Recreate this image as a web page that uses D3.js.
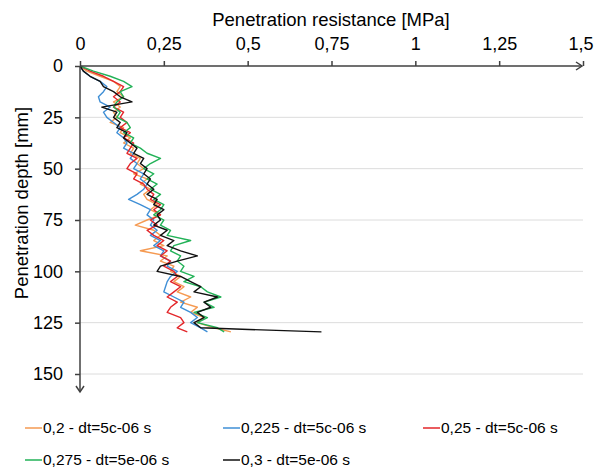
<!DOCTYPE html>
<html>
<head>
<meta charset="utf-8">
<script src="https://cdn.jsdelivr.net/npm/d3@7"></script>
<style>
  body { margin: 0; background: #fff; }
</style>
</head>
<body>
<div id="viz"></div>
<script>
// depth [mm] shared by all series
var depths = [0, 2.5, 5, 7.5, 10, 12.5, 15, 17.5, 20, 22.5, 25, 27.5, 30, 32.5, 35, 37.5, 40, 42.5, 45, 47.5,
  50, 52.5, 55, 57.5, 60, 62.5, 65, 67.5, 70, 72.5, 75, 77.5, 80, 82.5, 85, 87.5, 90, 92.5, 95, 97.5,
  100, 102.5, 105, 107.5, 110, 112.5, 115, 117.5, 120, 122.5, 125, 127.5, 129.5];

// resistance [MPa] per series
var s020 = [0, 0.02, 0.06, 0.10, 0.12, 0.11, 0.13, 0.10, 0.12, 0.10, 0.11, 0.09, 0.13, 0.12, 0.15, 0.13, 0.16, 0.15, 0.18, 0.17,
  0.19, 0.16, 0.20, 0.18, 0.21, 0.19, 0.20, 0.23, 0.21, 0.24, 0.20, 0.165, 0.22, 0.24, 0.22, 0.25, 0.18, 0.26, 0.24, 0.28,
  0.27, 0.30, 0.28, 0.31, 0.29, 0.33, 0.30, 0.35, 0.33, 0.37, 0.35, 0.40, 0.45];
var s0225 = [0, 0.01, 0.03, 0.06, 0.08, 0.07, 0.055, 0.06, 0.09, 0.07, 0.08, 0.10, 0.12, 0.11, 0.13, 0.14, 0.13, 0.16, 0.15, 0.17,
  0.16, 0.19, 0.18, 0.20, 0.19, 0.17, 0.145, 0.18, 0.21, 0.20, 0.22, 0.21, 0.23, 0.21, 0.24, 0.22, 0.25, 0.24, 0.27, 0.26,
  0.29, 0.27, 0.26, 0.255, 0.25, 0.28, 0.31, 0.30, 0.33, 0.35, 0.33, 0.36, 0.38];
var s025 = [0, 0.03, 0.07, 0.10, 0.13, 0.12, 0.10, 0.12, 0.10, 0.13, 0.12, 0.14, 0.12, 0.15, 0.13, 0.16, 0.15, 0.14, 0.17, 0.15,
  0.14, 0.17, 0.16, 0.19, 0.20, 0.22, 0.21, 0.24, 0.22, 0.24, 0.21, 0.23, 0.20, 0.22, 0.25, 0.23, 0.26, 0.24, 0.27, 0.25,
  0.28, 0.29, 0.27, 0.30, 0.28, 0.26, 0.29, 0.27, 0.26, 0.30, 0.31, 0.29, 0.32];
var s0275 = [0, 0.04, 0.09, 0.13, 0.155, 0.12, 0.13, 0.11, 0.10, 0.12, 0.11, 0.14, 0.15, 0.13, 0.16, 0.15, 0.18, 0.20, 0.24, 0.21,
  0.19, 0.22, 0.20, 0.23, 0.21, 0.24, 0.22, 0.25, 0.24, 0.22, 0.25, 0.24, 0.27, 0.26, 0.33, 0.28, 0.27, 0.30, 0.29, 0.31,
  0.30, 0.34, 0.31, 0.36, 0.38, 0.42, 0.37, 0.40, 0.34, 0.38, 0.35, 0.41, 0.43];
var s030 = [0, 0.01, 0.03, 0.06, 0.07, 0.10, 0.12, 0.155, 0.065, 0.11, 0.10, 0.12, 0.11, 0.14, 0.13, 0.15, 0.17, 0.16, 0.19, 0.18,
  0.20, 0.19, 0.21, 0.20, 0.22, 0.20, 0.23, 0.22, 0.25, 0.23, 0.24, 0.22, 0.26, 0.24, 0.28, 0.26, 0.30, 0.35, 0.29, 0.24,
  0.23, 0.30, 0.33, 0.36, 0.34, 0.41, 0.37, 0.39, 0.35, 0.37, 0.34, 0.36, 0.72];

var seriesNames = ["0,2 - dt=5c-06 s", "0,225 - dt=5c-06 s", "0,25 - dt=5c-06 s", "0,275 - dt=5e-06 s", "0,3 - dt=5e-06 s"];
var seriesValues = [s020, s0225, s025, s0275, s030];
var seriesColours = ["#f59a52", "#3f8fd6", "#e3262a", "#22b257", "#111111"];

var xTicks = [0, 0.25, 0.5, 0.75, 1, 1.25, 1.5];
var yTicks = [0, 25, 50, 75, 100, 125, 150];

var width = 595, height = 470;
var margin = {top: 66, left: 80};
var font = "'Liberation Sans', Arial, sans-serif";

var svg = d3.select("#viz")
  .append("svg")
  .attr("width", width)
  .attr("height", height)
  .attr("font-family", font);

var x = d3.scaleLinear().domain([0, 1.5]).range([margin.left, 583]);
var y = d3.scaleLinear().domain([0, 150]).range([margin.top, 374]);

var axisColour = "#404040";

// gridlines
svg.append("g")
  .selectAll("line")
  .data(yTicks.slice(1))
  .enter()
  .append("line")
  .attr("x1", x(0))
  .attr("x2", x(1.5))
  .attr("y1", function(d) { return y(d); })
  .attr("y2", function(d) { return y(d); })
  .attr("stroke", "#dcdcdc")
  .attr("stroke-width", 1);

// series lines
var line = d3.line()
  .x(function(d) { return x(d[0]); })
  .y(function(d) { return y(d[1]); });

seriesValues.forEach(function(vals, i) {
  svg.append("path")
    .datum(vals.map(function(v, j) { return [v, depths[j]]; }))
    .attr("d", line)
    .attr("fill", "none")
    .attr("stroke", seriesColours[i])
    .attr("stroke-width", 1.4)
    .attr("stroke-linejoin", "round");
});

// top axis
var xAxis = svg.append("g")
  .attr("transform", "translate(0," + y(0) + ")")
  .call(d3.axisTop(x).tickValues(xTicks).tickSize(5).tickPadding(11)
    .tickFormat(function(d) { return String(d).replace(".", ","); }));
xAxis.select(".domain").remove();
xAxis.append("line")
  .attr("x1", x(0)).attr("x2", x(1.5) - 1)
  .attr("stroke", axisColour).attr("stroke-width", 1.5);
xAxis.append("path")
  .attr("d", "M" + (x(1.5) - 7) + ",-4L" + (x(1.5) - 1) + ",0L" + (x(1.5) - 7) + ",4")
  .attr("fill", "none").attr("stroke", axisColour).attr("stroke-width", 1.5);

// left axis
var yAxis = svg.append("g")
  .attr("transform", "translate(" + x(0) + ",0)")
  .call(d3.axisLeft(y).tickValues(yTicks).tickSize(5).tickPadding(12));
yAxis.select(".domain").remove();
yAxis.append("line")
  .attr("y1", y(0)).attr("y2", 392)
  .attr("stroke", axisColour).attr("stroke-width", 1.5);
yAxis.append("path")
  .attr("d", "M-4,386L0,392L4,386")
  .attr("fill", "none").attr("stroke", axisColour).attr("stroke-width", 1.5);

svg.selectAll(".tick line").attr("stroke", axisColour).attr("stroke-width", 1.5);
svg.selectAll("g.tick").select("text")
  .attr("font-family", font)
  .attr("font-size", 18)
  .attr("fill", "#000");
// keep the last top label inside the picture
xAxis.selectAll(".tick text").filter(function(d) { return d === 1.5; }).attr("text-anchor", "end").attr("dx", "10");

// axis titles
svg.append("text")
  .attr("x", 331).attr("y", 26)
  .attr("text-anchor", "middle")
  .attr("font-size", 18.5)
  .text("Penetration resistance [MPa]");

svg.append("text")
  .attr("transform", "translate(28,203) rotate(-90)")
  .attr("text-anchor", "middle")
  .attr("font-size", 18.5)
  .text("Penetration depth [mm]");

// legend
var legendPos = [[25, 428], [223, 428], [423, 428], [25, 460], [223, 460]];
var legend = svg.append("g")
  .selectAll("g")
  .data(seriesNames)
  .enter()
  .append("g")
  .attr("transform", function(d, i) { return "translate(" + legendPos[i][0] + "," + legendPos[i][1] + ")"; });
legend.append("line")
  .attr("x1", 0).attr("x2", 17)
  .attr("stroke", function(d, i) { return seriesColours[i]; })
  .attr("stroke-width", 1.5);
legend.append("text")
  .attr("x", 18).attr("dy", "0.35em")
  .attr("font-size", 15.5)
  .text(function(d) { return d; });
</script>
</body>
</html>
